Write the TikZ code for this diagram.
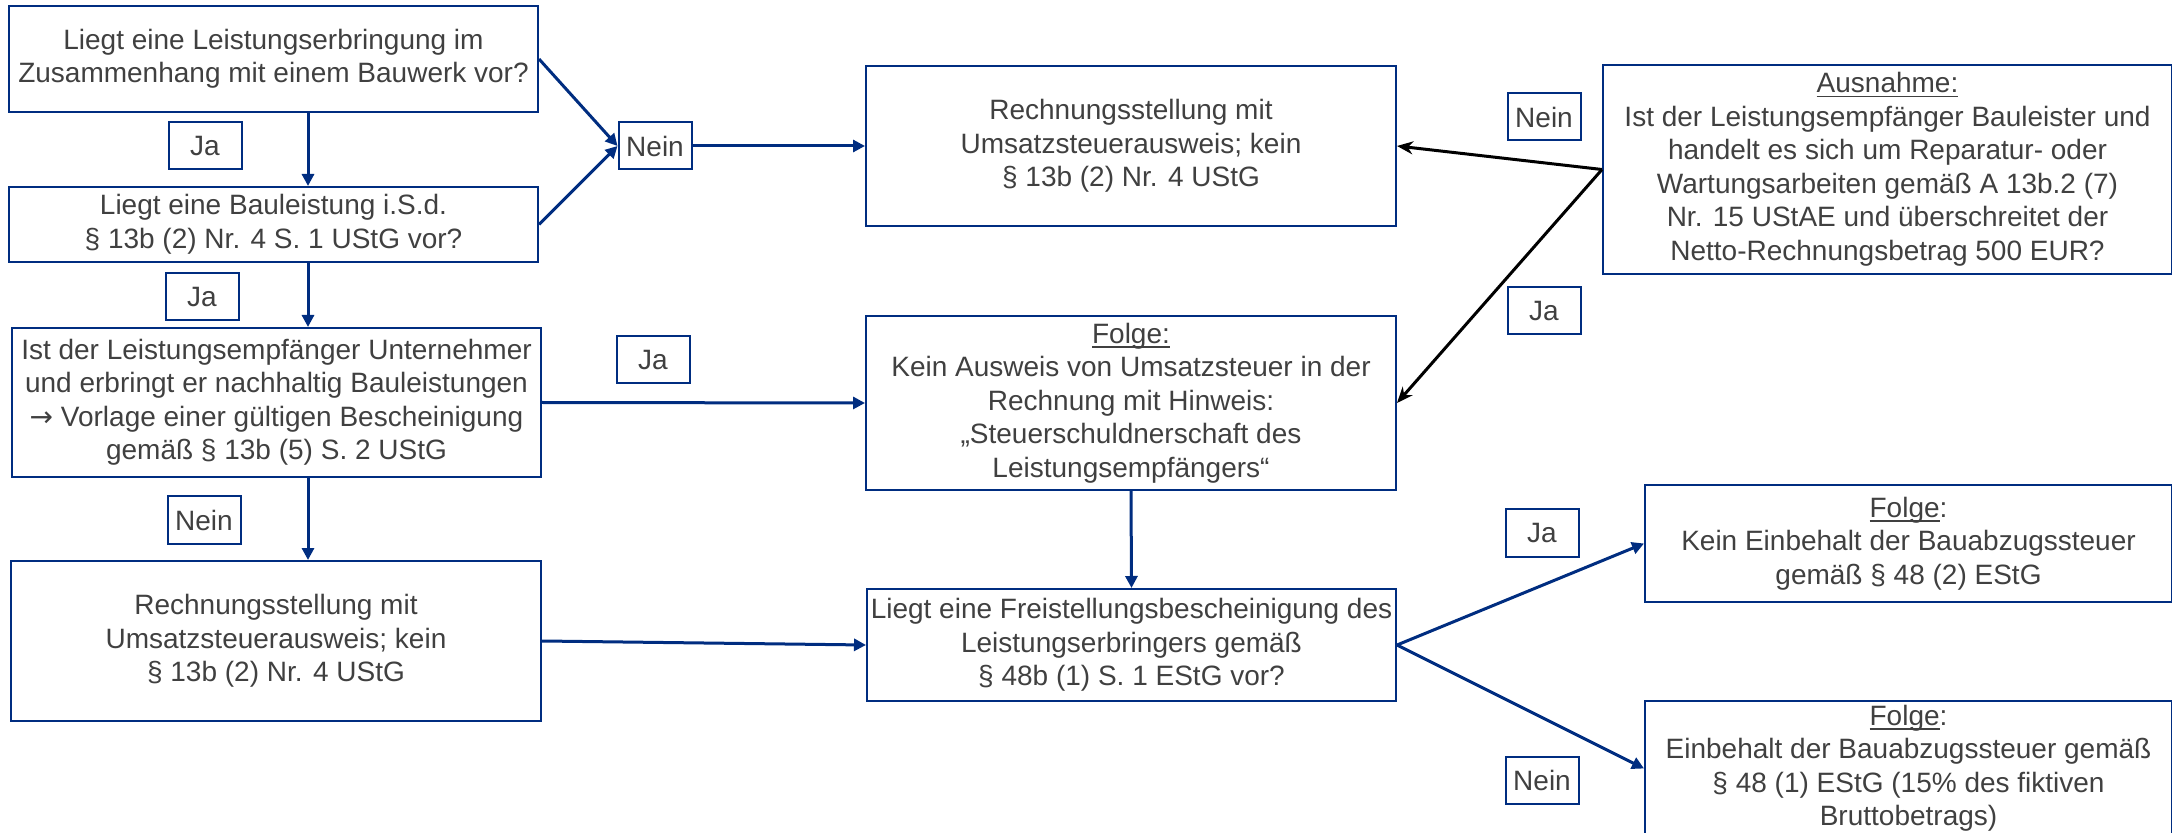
\documentclass[tikz,border=0pt]{standalone}
\usepackage{fontspec}
\setmainfont{Liberation Sans}
\newfontfamily\pfeilschrift{DejaVu Sans}
\usetikzlibrary{arrows.meta}
\definecolor{rahmen}{RGB}{0,45,128}
\definecolor{schrift}{RGB}{64,64,64}
\newcommand{\unterstrich}[1]{\setbox0\hbox{#1}\rlap{\rule[-2.2pt]{\wd0}{0.8pt}}\box0}

\begin{document}
\begin{tikzpicture}[x=0.5pt, y=-0.5pt, >={Triangle[length=6pt,width=6pt]},
  kasten/.style={draw=rahmen, line width=1pt, text=schrift, align=center, inner sep=0pt,
    font=\fontsize{14pt}{16.75pt}\selectfont},
  marke/.style={kasten, minimum width=36.5pt, minimum height=23.5pt},
  pfeil/.style={->, draw=rahmen, line width=1.5pt},
  ausnahmepfeil/.style={-{Stealth[length=8pt,width=6.5pt]}, draw=black, line width=1.5pt}]
\useasboundingbox (0,0) rectangle (2172,833);
% Knoten
\node [kasten, minimum width=264.5pt, minimum height=53pt] (frage1) at (273.5,59) {Liegt eine Leistungserbringung im\\Zusammenhang mit einem Bauwerk vor?};
\node [kasten, minimum width=264.5pt, minimum height=37.5pt] (frage2) at (273.5,224.5) {Liegt eine Bauleistung i.S.d.\\§ 13b (2) Nr. 4 S. 1 UStG vor?};
\node [kasten, minimum width=264.5pt, minimum height=74.5pt] (frage3) at (276.5,402.5) {Ist der Leistungsempfänger Unternehmer\\und erbringt er nachhaltig Bauleistungen\\{\pfeilschrift →} Vorlage einer gültigen Bescheinigung\\gemäß § 13b (5) S. 2 UStG};
\node [kasten, minimum width=265pt, minimum height=80pt] (rechnung1) at (276,641) {Rechnungsstellung mit\\Umsatzsteuerausweis; kein\\§ 13b (2) Nr. 4 UStG};
\node [kasten, minimum width=265pt, minimum height=80pt] (rechnung2) at (1131,146) {Rechnungsstellung mit\\Umsatzsteuerausweis; kein\\§ 13b (2) Nr. 4 UStG};
\node [kasten, minimum width=265pt, minimum height=87pt] (folge1) at (1131,403) {\unterstrich{Folge:}\\Kein Ausweis von Umsatzsteuer in der\\Rechnung mit Hinweis:\\„Steuerschuldnerschaft des\\Leistungsempfängers“};
\node [kasten, minimum width=264.5pt, minimum height=56pt] (frage4) at (1131.5,645) {Liegt eine Freistellungsbescheinigung des\\Leistungserbringers gemäß\\§ 48b (1) S. 1 EStG vor?};
\node [kasten, minimum width=284.5pt, minimum height=104.5pt] (ausnahme) at (1887.5,169.5) {\unterstrich{Ausnahme:}\\Ist der Leistungsempfänger Bauleister und\\handelt es sich um Reparatur- oder\\Wartungsarbeiten gemäß A 13b.2 (7)\\Nr. 15 UStAE und überschreitet der\\Netto-Rechnungsbetrag 500 EUR?};
\node [kasten, minimum width=263.5pt, minimum height=58.5pt] (folge2) at (1908.5,543.5) {\unterstrich{Folge}:\\Kein Einbehalt der Bauabzugssteuer\\gemäß § 48 (2) EStG};
\node [kasten, minimum width=263.5pt, minimum height=67.5pt] (folge3) at (1908.5,768.5) {\unterstrich{Folge}:\\Einbehalt der Bauabzugssteuer gemäß\\§ 48 (1) EStG (15\% des fiktiven\\Bruttobetrags)};
% Marken
\node [marke] (ja1) at (205,146) {Ja};
\node [marke] (ja2) at (202,297) {Ja};
\node [marke] (nein1) at (204,520) {Nein};
\node [marke] (nein2) at (655,146) {Nein};
\node [marke] (ja3) at (653,360) {Ja};
\node [marke] (nein3) at (1544,117) {Nein};
\node [marke] (ja4) at (1544,311) {Ja};
\node [marke] (ja5) at (1542,533) {Ja};
\node [marke] (nein4) at (1542,780) {Nein};
% Pfeile
\coordinate (spalte) at (308,0);
\draw [pfeil] (frage1.south -| spalte) -- (frage2.north -| spalte);
\draw [pfeil] (frage2.south -| spalte) -- (frage3.north -| spalte);
\draw [pfeil] (frage3.south -| spalte) -- (rechnung1.north -| spalte);
\draw [pfeil] (frage1.east) -- (nein2.west);
\draw [pfeil] (frage2.east) -- (nein2.west);
\draw [pfeil] (nein2.east) -- (rechnung2.west);
\draw [pfeil] (frage3.east) -- (folge1.west);
\draw [pfeil] (rechnung1.east) -- (frage4.west);
\draw [pfeil] (folge1.south) -- (frage4.north);
\draw [pfeil] (frage4.east) -- (folge2.west);
\draw [pfeil] (frage4.east) -- (folge3.west);
% Ausnahme
\draw [ausnahmepfeil] (ausnahme.west) -- (rechnung2.east);
\draw [ausnahmepfeil] (ausnahme.west) -- (folge1.east);
\end{tikzpicture}
\end{document}
